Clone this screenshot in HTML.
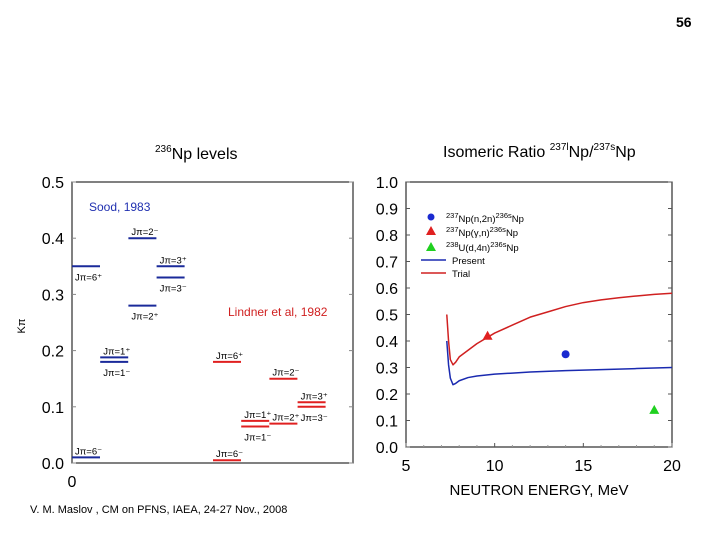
<!DOCTYPE html>
<html><head><meta charset="utf-8"><style>
body{margin:0;background:#fff;}
svg{display:block;font-family:"Liberation Sans",sans-serif;}
</style></head><body>
<svg id="c" width="720" height="540" viewBox="0 0 720 540" xmlns="http://www.w3.org/2000/svg">
<text x="676" y="27" font-size="14" font-weight="bold">56</text>
<text x="155" y="159" font-size="16"><tspan font-size="10" dy="-7">236</tspan><tspan dy="7">Np levels</tspan></text>
<text x="443" y="157" font-size="16">Isomeric Ratio <tspan font-size="10" dy="-7">237l</tspan><tspan dy="7">Np/</tspan><tspan font-size="10" dy="-7">237s</tspan><tspan dy="7">Np</tspan></text>
<g id="left"></g>
<g id="right"></g>
<text x="30" y="513" font-size="11">V. M. Maslov ,   CM on PFNS, IAEA, 24-27 Nov., 2008</text>
</svg>
<script>
// Left chart data
const levelEnergies = [0.01,0.35,0.188,0.18,0.28,0.40,0.35,0.33, 0.005,0.18,0.075,0.065,0.07,0.15,0.108,0.10];
const levelColumns  = [0,0,1,1,2,2,3,3, 5,5,6,6,7,7,8,8];
const levelSeries   = ['s','s','s','s','s','s','s','s','l','l','l','l','l','l','l','l'];
const levelLabels   = ['J\u03C0=6\u207B','J\u03C0=6\u207A','J\u03C0=1\u207A','J\u03C0=1\u207B','J\u03C0=2\u207A','J\u03C0=2\u207B','J\u03C0=3\u207A','J\u03C0=3\u207B','J\u03C0=6\u207B','J\u03C0=6\u207A','J\u03C0=1\u207A','J\u03C0=1\u207B','J\u03C0=2\u207A','J\u03C0=2\u207B','J\u03C0=3\u207A','J\u03C0=3\u207B'];
const labelAbove    = [1,0,1,0,0,1,1,0, 1,1,1,0,1,1,1,0];
const leftTicks = [0.0,0.1,0.2,0.3,0.4,0.5];
// Right chart data
const energyPresent = [7.3,7.4,7.5,7.65,7.8,8,8.5,9,10,11,12,14,16,18,20];
const ratioPresent  = [0.40,0.31,0.26,0.235,0.24,0.25,0.262,0.268,0.275,0.279,0.283,0.288,0.292,0.296,0.30];
const energyTrial = [7.3,7.4,7.5,7.65,7.8,8,8.5,9,10,11,12,13,14,15,16,17,18,19,20];
const ratioTrial  = [0.50,0.40,0.33,0.31,0.32,0.34,0.365,0.39,0.43,0.46,0.49,0.51,0.53,0.545,0.555,0.563,0.57,0.576,0.58];
const pointE = [14,9.6,19];
const pointR = [0.35,0.42,0.14];
const xTicks = [5,10,15,20];
const yTicks = [0,0.1,0.2,0.3,0.4,0.5,0.6,0.7,0.8,0.9,1.0];

const NS='http://www.w3.org/2000/svg';
function mk(p,t,a){const e=document.createElementNS(NS,t);for(const k in a)e.setAttribute(k,a[k]);p.appendChild(e);return e;}
// left
const L=document.getElementById('left');
const ly=v=>463-v/0.5*281, colX=c=>72+c*28.2;
mk(L,'rect',{x:72,y:182,width:281,height:281,fill:'none',stroke:'#000','stroke-width':1});
leftTicks.forEach(t=>{
  const tk=mk(L,'line',{x1:72,x2:76,y1:ly(t),y2:ly(t),stroke:'#888'});
  
  
  const tk2=mk(L,'line',{x1:349,x2:353,y1:ly(t),y2:ly(t),stroke:'#888'});
  
  
  const tx=mk(L,'text',{x:64,y:ly(t)+6,'font-size':16,'text-anchor':'end'});tx.textContent=t.toFixed(1);
  
  
});
const zt=mk(L,'text',{x:72,y:487,'font-size':16,'text-anchor':'middle'});zt.textContent='0';


const yt=mk(L,'text',{x:0,y:0,'font-size':11,transform:'translate(25,326) rotate(-90)','text-anchor':'middle'});yt.textContent='K\u03C0';


const s1=mk(L,'text',{x:89,y:211,'font-size':12,fill:'#2030b0'});s1.textContent='Sood, 1983';


const s2=mk(L,'text',{x:228,y:316,'font-size':12,fill:'#d02020'});s2.textContent='Lindner et al, 1982';


levelEnergies.forEach((v,i)=>{
  const x=colX(levelColumns[i]),y=ly(v),col=levelSeries[i]==='s'?'#1a2a9a':'#e02020';
  const ln=mk(L,'line',{x1:x,x2:x+28,y1:y,y2:y,stroke:col,'stroke-width':2});
  
  
  const tx=mk(L,'text',{x:x+3,y:labelAbove[i]?y-3:y+14,'font-size':9.5});tx.textContent=levelLabels[i];
  
  
});
// right
const R=document.getElementById('right');
const rx=e=>406+(e-5)/15*266, ry=v=>447-v*265;
mk(R,'rect',{x:406,y:182,width:266,height:265,fill:'none',stroke:'#000','stroke-width':1});
for(let e=6;e<20;e++){if(e%5)mk(R,'line',{x1:rx(e),x2:rx(e),y1:447,y2:445,stroke:'#999'});}
xTicks.forEach(t=>{
  const tk=mk(R,'line',{x1:rx(t),x2:rx(t),y1:447,y2:443,stroke:'#555'});
  
  
  const tx=mk(R,'text',{x:rx(t),y:471,'font-size':16,'text-anchor':'middle'});tx.textContent=t;
  
  
});
yTicks.forEach(t=>{
  const tk=mk(R,'line',{x1:406,x2:410,y1:ry(t),y2:ry(t),stroke:'#555'});
  
  
  const tk2=mk(R,'line',{x1:668,x2:672,y1:ry(t),y2:ry(t),stroke:'#555'});
  
  
  const tx=mk(R,'text',{x:398,y:ry(t)+6,'font-size':16,'text-anchor':'end'});tx.textContent=t.toFixed(1);
  
  
});
const xt=mk(R,'text',{x:539,y:495,'font-size':15,'text-anchor':'middle'});xt.textContent='NEUTRON  ENERGY, MeV';


const pp=mk(R,'polyline',{points:energyPresent.map((e,i)=>rx(e)+','+ry(ratioPresent[i])).join(' '),fill:'none',stroke:'#1a2ab0','stroke-width':1.5,'stroke-linejoin':'round'});


const pt=mk(R,'polyline',{points:energyTrial.map((e,i)=>rx(e)+','+ry(ratioTrial[i])).join(' '),fill:'none',stroke:'#d02020','stroke-width':1.5,'stroke-linejoin':'round'});


function tri(p,x,y,c){return mk(p,'polygon',{points:`${x},${y-5} ${x-5},${y+4} ${x+5},${y+4}`,fill:c});}
const m0=mk(R,'circle',{cx:rx(pointE[0]),cy:ry(pointR[0]),r:4,fill:'#1a2ad0'});


const m1=tri(R,rx(pointE[1]),ry(pointR[1]),'#e02020');


const m2=tri(R,rx(pointE[2]),ry(pointR[2]),'#20d020');


// legend
const lg=mk(R,'g',{'font-size':9.5});


mk(lg,'circle',{cx:431,cy:217,r:3.5,fill:'#1a2ad0'});
tri(lg,431,231,'#e02020');
tri(lg,431,247,'#20d020');
[[222,'237','Np(n,2n)','236s','Np'],[236,'237','Np(\u03B3,n)','236s','Np'],[251,'238','U(d,4n)','236s','Np']].forEach(r=>{
  const t=mk(lg,'text',{x:446,y:r[0]});
  t.innerHTML=`<tspan font-size="7.5" dy="-4">${r[1]}</tspan><tspan dy="4">${r[2]}</tspan><tspan font-size="7.5" dy="-4">${r[3]}</tspan><tspan dy="4">${r[4]}</tspan>`;
  
  
});
mk(lg,'line',{x1:421,x2:446,y1:260,y2:260,stroke:'#1a2ab0','stroke-width':1.5});
const tp=mk(lg,'text',{x:452,y:264});tp.textContent='Present';
mk(lg,'line',{x1:421,x2:446,y1:273,y2:273,stroke:'#d02020','stroke-width':1.5});
const tt=mk(lg,'text',{x:452,y:277});tt.textContent='Trial';
</script>
</body></html>
